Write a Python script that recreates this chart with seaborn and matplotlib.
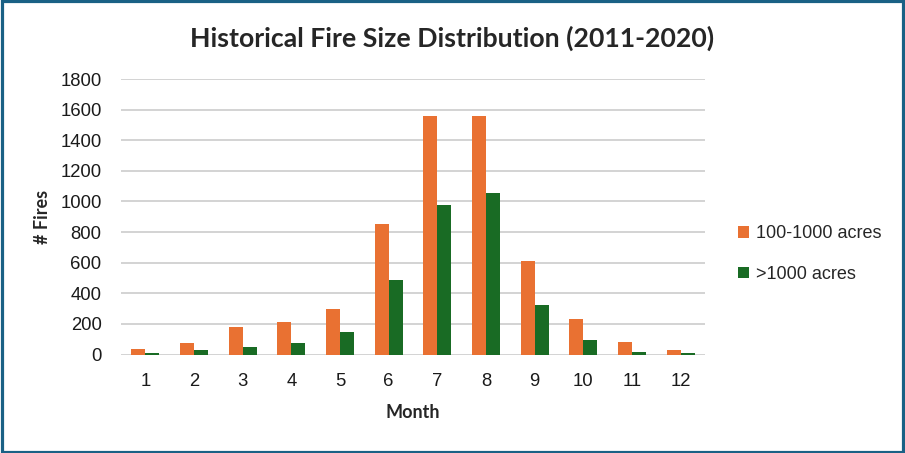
import matplotlib
matplotlib.use("Agg")
import matplotlib.pyplot as plt
import matplotlib.patches as mpatches
import pandas as pd
import seaborn as sns

months = [1, 2, 3, 4, 5, 6, 7, 8, 9, 10, 11, 12]
small_fires = [36, 75, 180, 213, 298, 855, 1555, 1560, 613, 234, 83, 31]
large_fires = [10, 30, 49, 75, 147, 489, 980, 1052, 325, 96, 18, 11]
series_names = ["100-1000 acres", ">1000 acres"]
colors = ["#E97132", "#196B24"]

df = pd.DataFrame({
    "Month": months * 2,
    "Fires": small_fires + large_fires,
    "Size": [series_names[0]] * 12 + [series_names[1]] * 12,
})

sns.set_style("white")
plt.rcParams["font.family"] = ["Liberation Sans", "DejaVu Sans"]

fig = plt.figure(figsize=(9.05, 4.53), dpi=100)
ax = fig.add_axes([121 / 905, 1 - 354.5 / 453, 584 / 905, 275.5 / 453])

sns.barplot(data=df, x="Month", y="Fires", hue="Size", palette=colors,
            width=0.575, saturation=1, linewidth=0, ax=ax, legend=True)

ax.set_ylim(0, 1800)
ax.set_yticks(range(0, 1801, 200))
ax.set_xlim(-0.5, 11.5)
ax.grid(axis="y", color="#D0D0D0", linewidth=1.3)
ax.set_axisbelow(True)
for s in ax.spines.values():
    s.set_visible(False)
ax.tick_params(axis="both", length=0, labelsize=13.3, colors="#1a1a1a")
ax.tick_params(axis="y", pad=14)
ax.tick_params(axis="x", pad=13)

ax.set_xlabel("Month", fontsize=13, fontweight="bold", family="Lato", labelpad=12)
ax.set_ylabel("# Fires", fontsize=13, fontweight="bold", family="Lato")
ax.yaxis.set_label_coords((42 - 121) / 584, 0.5)
ax.xaxis.set_label_coords(0.5, -(413 - 354.5) / 275.5)
ax.xaxis.label.set_va("center")
ax.yaxis.label.set_va("center")

handles, labels = ax.get_legend_handles_labels()
ax.get_legend().remove()
fig.legend(handles, labels, loc="center left", bbox_to_anchor=(722 / 905, 1 - 254 / 453),
           frameon=False, fontsize=13, handlelength=0.6, handleheight=0.6,
           handletextpad=0.4, labelspacing=1.3)

fig.text(0.5, 1 - 38 / 453, "Historical Fire Size Distribution (2011-2020)",
         ha="center", va="center", fontsize=19.2, fontweight="bold", family="Lato")

fig.patches.append(mpatches.Rectangle((0.0017, 0.0033), 0.9966, 0.9934, transform=fig.transFigure,
                                      fill=False, edgecolor="#1A6185", linewidth=2.3))

fig.savefig("out.png", dpi=100, facecolor="white")
